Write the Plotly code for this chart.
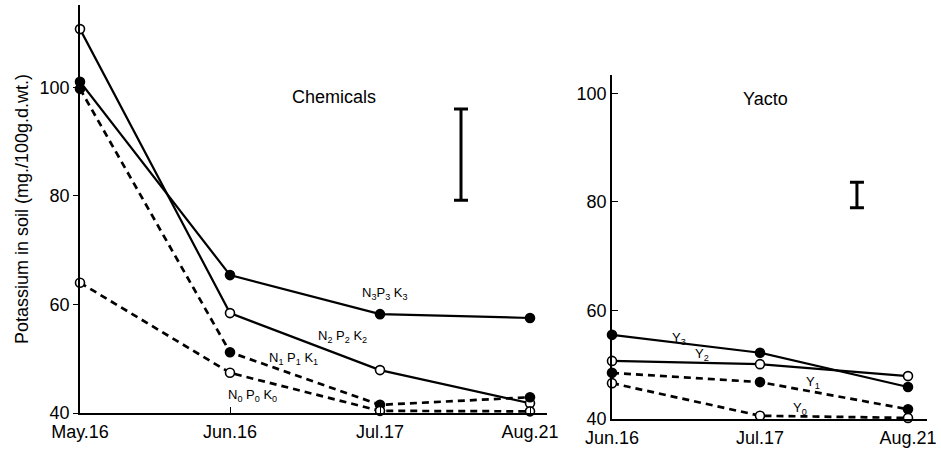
import plotly.graph_objects as go

W, H = 941, 452

# ---- data ----
chem_dates = ["May.16", "Jun.16", "Jul.17", "Aug.21"]
n3p3k3 = [101.0, 65.4, 58.2, 57.5]
n2p2k2 = [110.7, 58.4, 47.9, 41.8]
n1p1k1 = [99.7, 51.2, 41.5, 42.9]
n0p0k0 = [64.0, 47.4, 40.4, 40.3]

yacto_dates = ["Jun.16", "Jul.17", "Aug.21"]
y3 = [55.5, 52.2, 45.9]
y2 = [50.7, 50.1, 47.9]
y1 = [48.5, 46.8, 41.8]
y0 = [46.6, 40.6, 40.2]

# LSD bars (position between dates, centre, half-length)
chem_lsd_x, chem_lsd_y, chem_lsd_half = [2.54], [87.6], [8.4]
yacto_lsd_x, yacto_lsd_y, yacto_lsd_half = [1.655], [81.25], [2.35]

y_ticks = [40, 60, 80, 100]

FONT = "Liberation Sans Narrow, Liberation Sans, Arial"

fig = go.Figure()

def add_series(xvals, yvals, filled, dashed, xa, ya):
    fig.add_trace(go.Scatter(
        x=list(range(len(xvals))), y=yvals, xaxis=xa, yaxis=ya,
        mode="lines+markers", cliponaxis=False, showlegend=False,
        line=dict(color="black", width=2.7 if dashed else 2.2,
                  dash="7px,5px" if dashed else "solid"),
        marker=dict(size=9, symbol="circle",
                    color="black" if filled else "white",
                    line=dict(color="black", width=1.6)),
    ))

add_series(chem_dates, n3p3k3, True, False, "x", "y")
add_series(chem_dates, n2p2k2, False, False, "x", "y")
add_series(chem_dates, n1p1k1, True, True, "x", "y")
add_series(chem_dates, n0p0k0, False, True, "x", "y")

add_series(yacto_dates, y3, True, False, "x2", "y2")
add_series(yacto_dates, y2, False, False, "x2", "y2")
add_series(yacto_dates, y1, True, True, "x2", "y2")
add_series(yacto_dates, y0, False, True, "x2", "y2")

for xs, ys, hs, xa, ya in [(chem_lsd_x, chem_lsd_y, chem_lsd_half, "x", "y"),
                            (yacto_lsd_x, yacto_lsd_y, yacto_lsd_half, "x2", "y2")]:
    fig.add_trace(go.Scatter(
        x=xs, y=ys, xaxis=xa, yaxis=ya, mode="markers", showlegend=False,
        marker=dict(size=1, color="rgba(0,0,0,0)"),
        error_y=dict(type="data", array=hs, visible=True, color="black",
                     thickness=3, width=7),
    ))

# geometry (pixels)
lx0, lx1 = 80, 547
l_y40, px_per = 413, 5.43
l_top = 5
rx0, rx1 = 612, 927
r_y40 = 419
r_top = 75

def ydom(y40, top):
    return [(H - y40) / H, (H - top) / H]

l_ymax = 40 + (l_y40 - l_top) / px_per
r_ymax = 40 + (r_y40 - r_top) / px_per

axis_common = dict(showgrid=False, zeroline=False, showline=True,
                   linecolor="black", linewidth=1.5, automargin=False,
                   tickfont=dict(family=FONT, size=18, color="black"))

fig.update_layout(
    width=W, height=H,
    margin=dict(l=0, r=0, t=0, b=0, autoexpand=False),
    paper_bgcolor="white", plot_bgcolor="white",
    xaxis=dict(domain=[lx0 / W, lx1 / W], range=[0, (lx1 - lx0) / 150],
               tickvals=list(range(len(chem_dates))), ticktext=chem_dates,
               ticks="inside", ticklen=6, tickcolor="black", anchor="y",
               ticklabelstandoff=2,
               **axis_common),
    yaxis=dict(domain=ydom(l_y40, l_top), range=[40, l_ymax],
               tickvals=y_ticks, ticks="outside", ticklen=5, tickcolor="black",
               anchor="x", ticklabelstandoff=0,
               title=dict(text="Potassium in soil (mg./100g.d.wt.)",
                          font=dict(family=FONT, size=18, color="black"),
                          standoff=6),
               **axis_common),
    xaxis2=dict(domain=[rx0 / W, rx1 / W], range=[0, (rx1 - rx0) / 148],
                tickvals=list(range(len(yacto_dates))), ticktext=yacto_dates,
                ticks="", anchor="y2", ticklabelstandoff=2, **axis_common),
    yaxis2=dict(domain=ydom(r_y40, r_top), range=[40, r_ymax],
                tickvals=y_ticks, ticks="inside", ticklen=6, tickcolor="black",
                anchor="x2", ticklabelstandoff=0, **axis_common),
)

ann_font = dict(family=FONT, size=13, color="black")
labels = [
    ("x", "y", 2.03, 62.1, "N<sub>3</sub>P<sub>3</sub> K<sub>3</sub>"),
    ("x", "y", 1.75, 54.0, "N<sub>2</sub> P<sub>2</sub> K<sub>2</sub>"),
    ("x", "y", 1.42, 50.1, "N<sub>1</sub> P<sub>1</sub> K<sub>1</sub>"),
    ("x", "y", 1.15, 43.3, "N<sub>0</sub> P<sub>0</sub> K<sub>0</sub>"),
    ("x2", "y2", 0.45, 54.9, "Y<sub>3</sub>"),
    ("x2", "y2", 0.61, 51.8, "Y<sub>2</sub>"),
    ("x2", "y2", 1.36, 46.8, "Y<sub>1</sub>"),
    ("x2", "y2", 1.27, 42.0, "Y<sub>0</sub>"),
]
for xr, yr, x, y, t in labels:
    fig.add_annotation(xref=xr, yref=yr, x=x, y=y, text=t, showarrow=False,
                       font=ann_font)

fig.add_annotation(xref="paper", yref="paper", x=290 / W, y=1 - 85 / H,
                   text="Chemicals", showarrow=False,
                   font=dict(family=FONT, size=18, color="black"))
fig.add_annotation(xref="paper", yref="paper", x=790 / W, y=1 - 87 / H,
                   text="Yacto", showarrow=False,
                   font=dict(family=FONT, size=18, color="black"))

fig.write_html("out.html")
